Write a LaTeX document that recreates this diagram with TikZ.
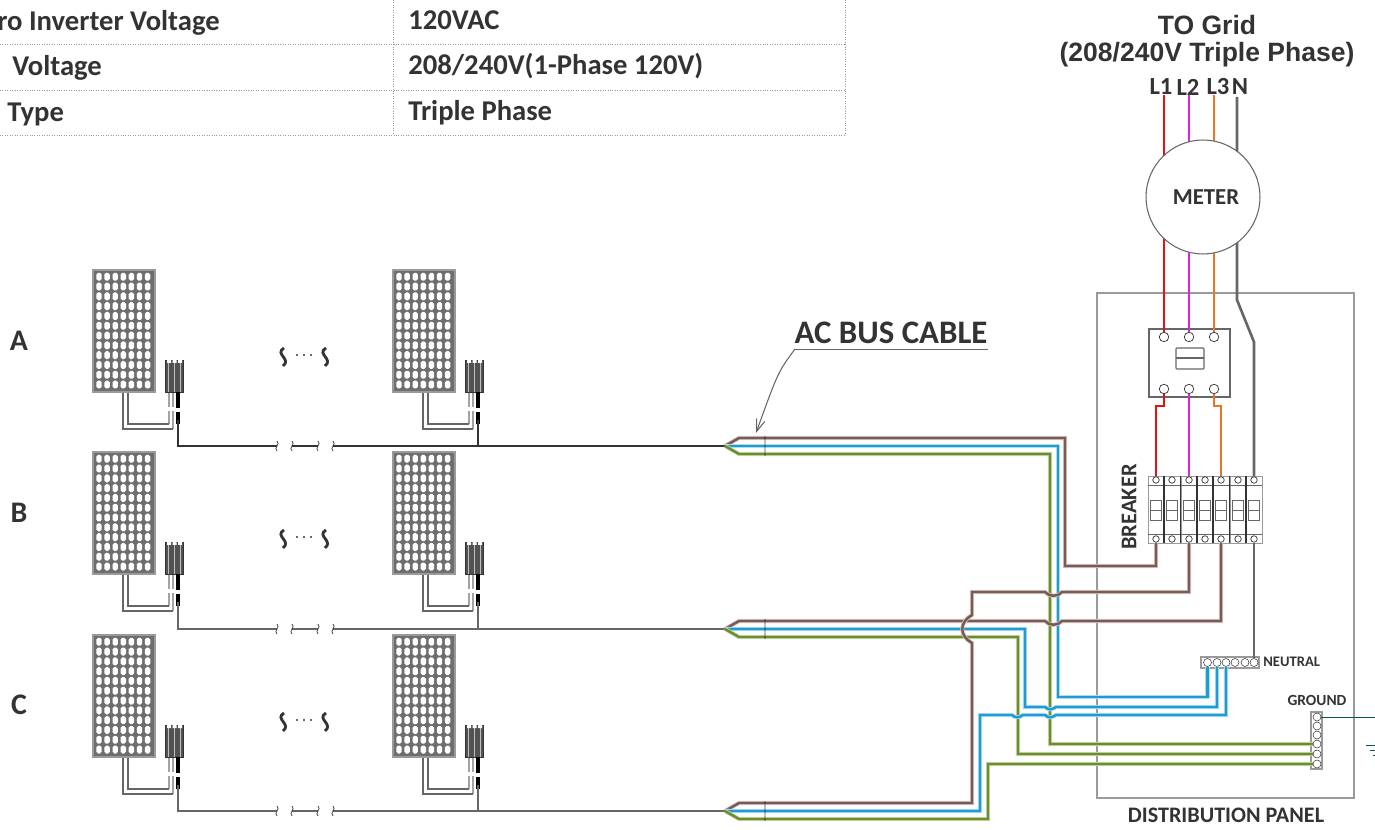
\documentclass[tikz,border=0pt]{standalone}
\usepackage{fontspec}
\setmainfont{Carlito}
\newfontfamily\gridfont{Liberation Sans}
\usetikzlibrary{arrows.meta}
\definecolor{inkgrey}{HTML}{333333}
\definecolor{framegrey}{HTML}{9A9A9A}
\definecolor{cellgrey}{HTML}{6E6E6E}
\definecolor{redwire}{HTML}{E0121C}
\definecolor{pinkwire}{HTML}{E020E0}
\definecolor{orangewire}{HTML}{E8772A}
\definecolor{neutralwire}{HTML}{666666}
\definecolor{brownwire}{HTML}{7A5A52}
\definecolor{bluewire}{HTML}{1E9BD2}
\definecolor{greenwire}{HTML}{6B8E2A}
\tikzset{
  lbl/.style={inner sep=0pt,text=inkgrey,font=\bfseries},
  hole/.style={draw=inkgrey,fill=white,circle,inner sep=0pt,line width=0.4pt},
  wire/.style={line width=1.5pt,line join=miter},
  cablewire/.style={line width=1.4pt,line join=miter,preaction={draw=#1!35,line width=2.3pt}},
  panelbox/.style={draw=framegrey,fill=cellgrey,line width=0.8pt,minimum width=1.24cm,minimum height=2.44cm,inner sep=0pt},
  invbox/.style={draw=inkgrey,fill=inkgrey!85,minimum width=0.36cm,minimum height=0.64cm,inner sep=0pt},
  dcwire/.style={draw=neutralwire,line width=0.9pt},
  busline/.style={line width=1.2pt},
  thinbreak/.style={line width=0.4pt,draw=inkgrey}
}
\begin{document}
\begin{tikzpicture}[x=0.02cm,y=-0.02cm]
  \useasboundingbox (0,0) rectangle (1375,830);
  % table at the top
  \foreach \y in {44,90,135}
    \draw[framegrey,densely dotted,line width=0.4pt] (0,\y) -- (845,\y);
  \foreach \x in {393,845}
    \draw[framegrey,densely dotted,line width=0.4pt] (\x,0) -- (\x,135);
  \node[lbl,anchor=west,font=\bfseries\fontsize{16.3}{16}\selectfont] (tabA) at (-3,23) {ro Inverter Voltage};
  \node[lbl,anchor=west,font=\bfseries\fontsize{16.3}{16}\selectfont] (tabB) at (12,68) {Voltage};
  \node[lbl,anchor=west,font=\bfseries\fontsize{16.3}{16}\selectfont] (tabC) at (7,114) {Type};
  \node[lbl,anchor=west,font=\bfseries\fontsize{16.3}{16}\selectfont] (valA) at (408,20) {120VAC};
  \node[lbl,anchor=west,font=\bfseries\fontsize{16.3}{16}\selectfont] (valB) at (408,66) {208/240V(1-Phase 120V)};
  \node[lbl,anchor=west,font=\bfseries\fontsize{16.3}{16}\selectfont] (valC) at (408,113) {Triple Phase};
  % row letters
  \foreach \r/\y in {A/341,B/513,C/705}
    \node[lbl,font=\bfseries\fontsize{17}{17}\selectfont] (row\r) at (19,\y) {\r};
  % solar panels and micro inverters
  \foreach \n/\px/\py in {A1/93/270,A2/393/270,B1/93/452,B2/393/452,C1/93/635,C2/393/635} {
    \begin{scope}[shift={(\px,\py)}]
      \node[panelbox] (panel\n) at (31,61) {};
      \foreach \i in {0,...,6}
        \foreach \j in {0,...,11}
          \fill[white,rounded corners=1pt] ({3.3+\i*8.1},{2.8+\j*9.8}) rectangle ++(5.4,7.9);
      \node[invbox] (inv\n) at (81,106) {};
      \foreach \x in {75,81,87}
        \draw[white!75!black,line width=0.5pt] (\x,90) -- (\x,122);
      \fill[white] (74,90) rectangle ++(4,3) (79.5,90) rectangle ++(4,3) (85,90) rectangle ++(4,3);
      \draw[neutralwire!60,line width=1.3pt] (76,123) -- (76,137) (76,141) -- (76,154);
      \draw[neutralwire!60,line width=1.3pt] (80,123) -- (80,137) (80,141) -- (80,159);
      \draw[black,line width=1.8pt] (85,122) -- (85,138) (85,142) -- (85,154);
      \coordinate (jack\n) at (85,150);
      \draw[dcwire] (panel\n.south) ++(-1,0) |- (80,159);
      \draw[dcwire] (panel\n.south) ++(4,0) |- (76,154);
    \end{scope}
  }
  % the three string lines
  \foreach \r/\y/\c in {A/446/inkgrey,B/629/neutralwire,C/811/neutralwire} {
    \coordinate (split\r) at (725,\y);
    \draw[busline,\c] (jack\r1) |- (277,\y);
    \draw[busline,\c] (292,\y) -- (318,\y);
    \draw[busline,\c] (jack\r2) -- (478,\y);
    \draw[busline,\c] (333,\y) -- (split\r);
    \foreach \x in {277,292,318,333}
      \draw[thinbreak] (\x,\y-5) .. controls (\x+4,\y-2) and (\x-4,\y+2) .. (\x,\y+5);
  }
  % wavy marks between the panels
  \foreach \y in {357,539,722} {
    \foreach \x in {283,325}
      \draw[inkgrey,line width=1.6pt] (\x+1,\y-9) .. controls (\x-9,\y-3) and (\x+9,\y+2) .. (\x,\y+9);
    \foreach \x in {297,304,311}
      \fill[inkgrey] (\x,\y-2) circle (0.6pt);
  }
  % distribution panel
  \node[draw=framegrey,line width=0.8pt,minimum width=5.14cm,minimum height=10.1cm,inner sep=0pt] (distbox) at (1225.5,545.5) {};
  \node[lbl,font=\bfseries\fontsize{12.6}{13}\selectfont] (distlabel) at (1226,815) {DISTRIBUTION PANEL};
  % contactor
  \node[draw=neutralwire,fill=white,line width=0.6pt,minimum width=1.62cm,minimum height=1.36cm,inner sep=0pt] (contactor) at (1189.5,363) {};
  \foreach \n/\x in {1/1164,2/1189,3/1214} {
    \node[hole,minimum size=0.19cm] (ct\n) at (\x,337) {};
    \node[hole,minimum size=0.19cm] (cb\n) at (\x,389) {};
  }
  \draw[neutralwire,rounded corners=0.5pt,line width=0.6pt] (1176,348) rectangle (1204,369);
  \draw[neutralwire,line width=0.6pt] (1176,358) -- (1204,358);
  % breaker block
  \foreach \n/\x in {1/1156,2/1172,3/1189,4/1205,5/1221,6/1238,7/1254} {
    \node[draw=framegrey,fill=white,line width=0.5pt,minimum width=0.32cm,minimum height=1.34cm,inner sep=0pt] (brk\n) at (\x,509.5) {};
    \node[hole,minimum size=0.13cm] (brt\n) at (\x,480) {};
    \node[hole,minimum size=0.13cm] (brb\n) at (\x,539) {};
    \draw[neutralwire,line width=0.4pt] (\x-8,485) -- (\x+8,485) (\x-8,534) -- (\x+8,534);
    \draw[neutralwire,line width=0.5pt] (\x-5.5,500) rectangle (\x+5.5,520) (\x-5.5,510) -- (\x+5.5,510);
  }
  \foreach \x in {1164,1180.5,1197,1213,1229.5,1246}
    \draw[inkgrey,line width=0.6pt] (\x,476) -- (\x,543);
  \node[lbl,rotate=90,font=\bfseries\fontsize{12.8}{13}\selectfont] (brklabel) at (1129,507) {BREAKER};
  % neutral and ground bars
  \node[draw=framegrey,fill=white,line width=0.6pt,minimum width=1.16cm,minimum height=0.22cm,inner sep=0pt] (nbar) at (1230,662.5) {};
  \foreach \n/\x in {1/1207.5,2/1217,3/1226,4/1235,5/1245,6/1254}
    \node[hole,minimum size=0.16cm,line width=0.3pt] (nh\n) at (\x,662.5) {};
  \node[lbl,anchor=west,font=\bfseries\fontsize{8.3}{8}\selectfont] (neutrallabel) at (1263,662) {NEUTRAL};
  \node[draw=framegrey,fill=white,line width=0.6pt,minimum width=0.22cm,minimum height=1.14cm,inner sep=0pt] (gbar) at (1316.5,740.5) {};
  \foreach \n/\y in {1/717,2/726,3/735,4/744,5/754,6/764}
    \node[hole,minimum size=0.16cm,line width=0.3pt] (gh\n) at (1317,\y) {};
  \node[lbl,font=\bfseries\fontsize{8.8}{9}\selectfont] (groundlabel) at (1317,700) {GROUND};
  \coordinate (earth) at (1375,717);
  \draw[teal!70!black,line width=0.4pt] (gh1.east) -- (earth);
  \draw[teal!70!black,line width=0.4pt] (1366,745) -- (1375,745) (1370,750) -- (1375,750) (1373,755) -- (1375,755);
  % grid side
  \node[inner sep=0pt,text=inkgrey,align=center,font=\gridfont\bfseries\fontsize{15.1}{15.4}\selectfont] (gridlabel) at (1207,41) {TO Grid\\(208/240V Triple Phase)};
  \node[lbl,font=\bfseries\fontsize{14}{14}\selectfont] (L1) at (1161,87) {L1};
  \node[lbl,font=\bfseries\fontsize{14}{14}\selectfont] (L2) at (1188,87) {L2};
  \node[lbl,font=\bfseries\fontsize{14}{14}\selectfont] (L3) at (1218,87) {L3};
  \node[lbl,font=\bfseries\fontsize{14}{14}\selectfont] (LN) at (1240,87) {N};
  \coordinate (gridN) at (1237,97);
  \draw[wire,redwire] (L1.south -| ct1) -- (ct1.north);
  \draw[wire,pinkwire] (L2.south -| ct2) -- (ct2.north);
  \draw[wire,orangewire] (L3.south -| ct3) -- (ct3.north);
  \draw[wire,neutralwire] (gridN) -- (1237,300) -- (1254,342) -- (brt7.north);
  \node[draw=neutralwire,fill=white,circle,line width=0.6pt,minimum size=2.28cm,inner sep=0pt,text=inkgrey,font=\bfseries\fontsize{13}{13}\selectfont] (meter) at (1203,197) {\hspace{3.4pt}METER};
  % contactor to breaker
  \draw[wire,redwire] (cb1.south) -- (1164,406) -| (brt1.north);
  \draw[wire,pinkwire] (cb2.south) -- (brt3.north);
  \draw[wire,orangewire] (cb3.south) -- (1214,406) -| (brt5.north);
  \draw[wire,neutralwire] (brb7.south) -- (nh6.north);
  % AC bus cable label
  \node[lbl,font=\bfseries\fontsize{18.7}{19}\selectfont] (acbus) at (891,333) {AC BUS CABLE};
  \coordinate (acleft) at (795,349);
  \coordinate (acright) at (988,349);
  \coordinate (actip) at (756,433);
  \draw[neutralwire,line width=0.5pt] (acright) -- (acleft);
  \draw[neutralwire,line width=0.6pt,-{Straight Barb[length=7pt,width=5pt]}] (acleft) .. controls (778,372) .. (actip);
  % row A cable
  \draw[cablewire=brownwire,brownwire] (splitA) -- ++(14,-8) -| (1065,566) -| (brb1.south);
  \draw[cablewire=bluewire,bluewire] (splitA) -| (1058,697) -| (nh1.south);
  \draw[cablewire=greenwire,greenwire] (splitA) -- ++(14,8) -| (1050,744) -- (gh4.west);
  % row B cable
  \draw[cablewire=brownwire,brownwire] (splitB) -- ++(14,-8) -- (1045,621) .. controls (1049,626) and (1058,626) .. (1062,621) -| (brb5.south);
  \draw[cablewire=bluewire,bluewire] (splitB) -| (1025,707) -- (1045,707) .. controls (1048,710) and (1052,710) .. (1056,707) -| (nh2.south);
  \draw[cablewire=greenwire,greenwire] (splitB) -- ++(14,8) -| (1018,754) -- (gh5.west);
  % row C cable
  \draw[cablewire=brownwire,brownwire] (splitC) -- ++(14,-8) -| (972,643) .. controls (959,636) and (959,622) .. (972,615) -- (972,592) -- (1045,592) .. controls (1049,597) and (1058,597) .. (1062,592) -| (brb3.south);
  \draw[cablewire=bluewire,bluewire] (splitC) -| (980,715) -- (1012,715) .. controls (1015,718) and (1019,718) .. (1023,715) -- (1045,715) .. controls (1048,718) and (1052,718) .. (1056,715) -| (nh3.south);
  \draw[cablewire=greenwire,greenwire] (splitC) -- ++(14,8) -| (988,764) -- (gh6.west);
  % dark band across each cable
  \foreach \y in {446,629,811}
    \draw[black,opacity=0.25,line width=0.6pt] (765,\y-10) -- (765,\y+10);
\end{tikzpicture}
\end{document}
